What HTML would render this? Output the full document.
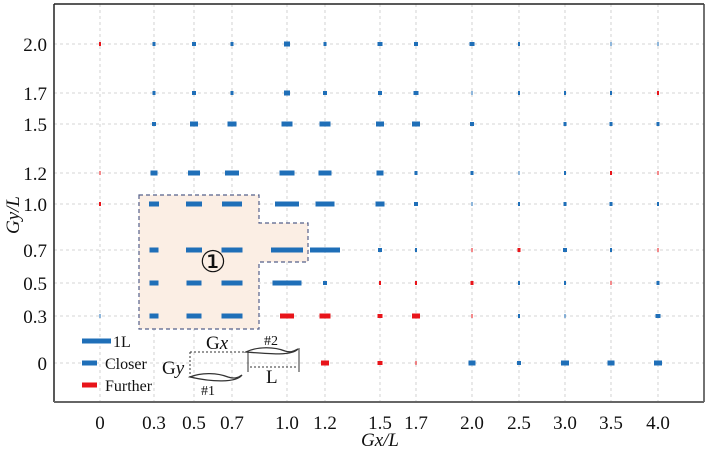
<!DOCTYPE html>
<html><head><meta charset="utf-8"><style>
html,body{margin:0;padding:0;background:#fff;}
svg{display:block;}
text{font-family:"Liberation Serif",serif;fill:#111;}
</style></head><body>
<svg width="708" height="454" viewBox="0 0 708 454" xmlns="http://www.w3.org/2000/svg">
<rect width="708" height="454" fill="#fff"/>
<g stroke="#c8c8c8" stroke-width="0.8" stroke-dasharray="3,3">
<line x1="100" y1="4" x2="100" y2="402"/><line x1="154" y1="4" x2="154" y2="402"/><line x1="194" y1="4" x2="194" y2="402"/><line x1="232" y1="4" x2="232" y2="402"/><line x1="287" y1="4" x2="287" y2="402"/><line x1="325" y1="4" x2="325" y2="402"/><line x1="380" y1="4" x2="380" y2="402"/><line x1="416" y1="4" x2="416" y2="402"/><line x1="472" y1="4" x2="472" y2="402"/><line x1="519" y1="4" x2="519" y2="402"/><line x1="565" y1="4" x2="565" y2="402"/><line x1="611" y1="4" x2="611" y2="402"/><line x1="658" y1="4" x2="658" y2="402"/>
<line x1="54" y1="44" x2="704" y2="44"/><line x1="54" y1="93" x2="704" y2="93"/><line x1="54" y1="124" x2="704" y2="124"/><line x1="54" y1="173" x2="704" y2="173"/><line x1="54" y1="204" x2="704" y2="204"/><line x1="54" y1="250" x2="704" y2="250"/><line x1="54" y1="283" x2="704" y2="283"/><line x1="54" y1="316" x2="704" y2="316"/><line x1="54" y1="363" x2="704" y2="363"/>
</g>
<polygon points="139,195 259,195 259,223 308,223 308,262 259,262 259,329 139,329" fill="#fbeee4" stroke="#55608a" stroke-width="1.2" stroke-dasharray="4,3"/>
<text x="213" y="272" font-size="30" text-anchor="middle">①</text>
<g id="m"></g>
<line x1="54" y1="4" x2="704" y2="4" stroke="#222" stroke-width="1.5"/>
<line x1="54" y1="4" x2="54" y2="402" stroke="#222" stroke-width="1.5"/>
<line x1="704" y1="4" x2="704" y2="402" stroke="#444" stroke-width="1.5"/>
<line x1="54" y1="402" x2="704" y2="402" stroke="#666" stroke-width="2"/>
<g font-size="19" text-anchor="end">
<text x="47" y="51">2.0</text><text x="47" y="100">1.7</text><text x="47" y="131">1.5</text><text x="47" y="180">1.2</text><text x="47" y="211">1.0</text><text x="47" y="257">0.7</text><text x="47" y="290">0.5</text><text x="47" y="323">0.3</text><text x="47" y="370">0</text>
</g>
<g font-size="19" text-anchor="middle">
<text x="100" y="429">0</text><text x="154" y="429">0.3</text><text x="194" y="429">0.5</text><text x="232" y="429">0.7</text><text x="287" y="429">1.0</text><text x="325" y="429">1.2</text><text x="380" y="429">1.5</text><text x="416" y="429">1.7</text><text x="472" y="429">2.0</text><text x="519" y="429">2.5</text><text x="565" y="429">3.0</text><text x="611" y="429">3.5</text><text x="658" y="429">4.0</text>
</g>
<text x="380" y="446" font-size="19" text-anchor="middle" font-style="italic">Gx/L</text>
<text transform="translate(19,215) rotate(-90)" font-size="19" text-anchor="middle" font-style="italic">Gy/L</text>
<line x1="82" y1="341" x2="111" y2="341" stroke="#1f6fb8" stroke-width="5"/>
<line x1="82" y1="363" x2="97" y2="363" stroke="#1f6fb8" stroke-width="5"/>
<line x1="82" y1="385" x2="97" y2="385" stroke="#e8141a" stroke-width="5"/>
<g font-size="16"><text x="113" y="347">1L</text><text x="105" y="369">Closer</text><text x="105" y="391">Further</text></g>
<g stroke="#333" stroke-width="1" fill="none">
<line x1="190" y1="352" x2="246" y2="352" stroke-dasharray="2,2"/>
<line x1="190" y1="352" x2="190" y2="377" stroke-dasharray="2,2"/>
<line x1="250" y1="367" x2="297" y2="367" stroke-dasharray="2,2"/>
<line x1="248" y1="352" x2="248" y2="372"/><line x1="299" y1="348" x2="299" y2="372"/>
<path d="M246,352 C258,346 275,347 285,351 C291,353 294,351 298,349 C292,356 270,354 246,352 Z" stroke-width="1.3"/>
<path d="M190,377 C202,372 218,373 228,377 C234,379 238,378 242,375 C236,383 212,382 190,377 Z" stroke-width="1.3"/>
</g>
<g font-size="19"><text x="206" y="349">G<tspan font-style="italic">x</tspan></text><text x="162" y="374">G<tspan font-style="italic">y</tspan></text><text x="266" y="383">L</text></g>
<g font-size="14"><text x="264" y="345">#2</text><text x="201" y="395">#1</text></g>
</svg>
<script>
var xs={0:100,0.3:154,0.5:194,0.7:232,1.0:287,1.2:325,1.5:380,1.7:416,2.0:472,2.5:519,3.0:565,3.5:611,4.0:658};
var ys={2.0:44,1.7:93,1.5:124,1.2:173,1.0:204,0.7:250,0.5:283,0.3:316,0:363};
var B="#1f6fb8",R="#e8141a";
var d=[
[2.0,[[0,2,R],[0.3,3],[0.5,4],[0.7,3],[1.0,6],[1.2,3],[1.5,5],[1.7,4],[2.0,5],[2.5,2],[3.5,1],[4.0,1]]],
[1.7,[[0.3,3],[0.5,4],[0.7,3],[1.0,6],[1.2,4],[1.5,4],[1.7,5],[2.0,1],[2.5,2],[3.0,2],[3.5,2],[4.0,2,R]]],
[1.5,[[0.3,4],[0.5,8],[0.7,9],[1.0,11],[1.2,11],[1.5,8],[1.7,8],[2.0,4],[3.0,3],[3.5,3],[4.0,3]]],
[1.2,[[0,1,R],[0.3,7],[0.5,12],[0.7,14],[1.0,15],[1.2,13],[1.5,7],[1.7,3],[2.0,3],[2.5,1],[3.0,2],[3.5,2,R],[4.0,1,R]]],
[1.0,[[0,2,R],[0.3,10],[0.5,16],[0.7,20],[1.0,24],[1.2,19],[1.5,9],[1.7,4],[2.0,1],[2.5,2],[3.0,3],[3.5,3],[4.0,2]]],
[0.7,[[0.3,9],[0.5,16],[0.7,21],[1.0,32],[1.2,30],[1.5,4],[1.7,2],[2.0,1,R],[2.5,3,R],[3.0,4],[3.5,2],[4.0,1,R]]],
[0.5,[[0.3,9],[0.5,15],[0.7,21],[1.0,29],[1.2,4],[1.5,2,R],[1.7,2,R],[2.0,3,R],[2.5,2],[3.0,2],[3.5,1,R],[4.0,3]]],
[0.3,[[0,1],[0.3,9],[0.5,15],[0.7,21],[1.0,14,R],[1.2,11,R],[1.5,5,R],[1.7,8,R],[2.0,1,R],[2.5,2],[3.0,1],[4.0,5]]],
[0,[[1.2,8,R],[1.5,5,R],[1.7,1,R],[2.0,7],[2.5,4],[3.0,8],[3.5,7],[4.0,8]]]
];
var g=document.getElementById("m"),s="";
d.forEach(function(r){var y=ys[r[0]];r[1].forEach(function(p){var x=xs[p[0]],w=p[1],c=p[2]||B,h=w>=6?5:4;
s+='<rect x="'+(x-w/2)+'" y="'+(y-h/2)+'" width="'+w+'" height="'+h+'" fill="'+c+'"/>';});});
g.innerHTML=s;
</script>
</body></html>
